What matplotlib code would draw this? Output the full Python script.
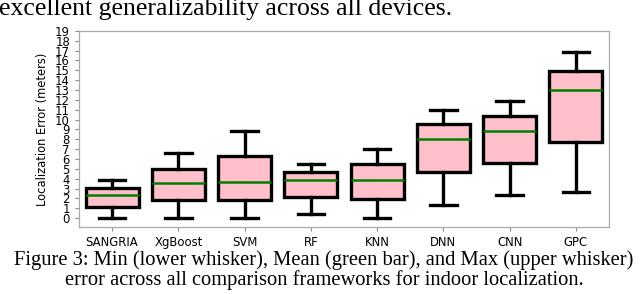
import matplotlib.pyplot as plt

# frameworks and their error stats (meters)
names = ['SANGRIA', 'XgBoost', 'SVM', 'RF', 'KNN', 'DNN', 'CNN', 'GPC']
err_min = [0.05, 0.05, 0.05, 0.45, 0.05, 1.3, 2.35, 2.6]
err_q1 = [1.15, 1.8, 1.85, 2.1, 1.95, 4.65, 5.6, 7.7]
err_mean = [2.3, 3.55, 3.7, 3.85, 3.85, 8.0, 8.8, 12.95]
err_q3 = [3.1, 5.0, 6.3, 4.65, 5.45, 9.5, 10.35, 14.95]
err_max = [3.85, 6.6, 8.85, 5.5, 7.0, 10.95, 11.9, 16.9]
yticks = list(range(0, 20))

fig = plt.figure(figsize=(6.4, 2.94), dpi=100)
ax = fig.add_axes([0.1234, 0.228, 0.8282, 0.667])

stats = []
for i in range(len(names)):
    stats.append({'label': names[i], 'whislo': err_min[i], 'q1': err_q1[i],
                  'med': err_mean[i], 'q3': err_q3[i], 'whishi': err_max[i]})

ax.bxp(stats, widths=0.8, patch_artist=True, showfliers=False,
       boxprops=dict(facecolor='pink', edgecolor='black', linewidth=2.4),
       whiskerprops=dict(color='black', linewidth=2.4),
       capprops=dict(color='black', linewidth=2.4),
       medianprops=dict(color='green', linewidth=1.8))

ax.set_ylim(-0.9, 19.0)
ax.set_yticks(yticks)
ax.tick_params(labelsize=8.4, color='#888888', length=3)
ax.set_ylabel('Localization Error (meters)', fontsize=8.3)
for s in ax.spines.values():
    s.set_color('#aaaaaa')
    s.set_linewidth(0.9)

# surrounding paper text (serif, like the page)
serif = ['Liberation Serif', 'DejaVu Serif']
fig.text(-0.002, 0.949, 'excellent generalizability across all devices.',
         family=serif, fontsize=18.5, va='baseline', ha='left')
fig.text(0.505, 0.100, 'Figure 3: Min (lower whisker), Mean (green bar), and Max (upper whisker)',
         family=serif, fontsize=14.8, va='baseline', ha='center')
fig.text(0.507, 0.032, 'error across all comparison frameworks for indoor localization.',
         family=serif, fontsize=14.8, va='baseline', ha='center')

fig.savefig('out.png', dpi=100)
